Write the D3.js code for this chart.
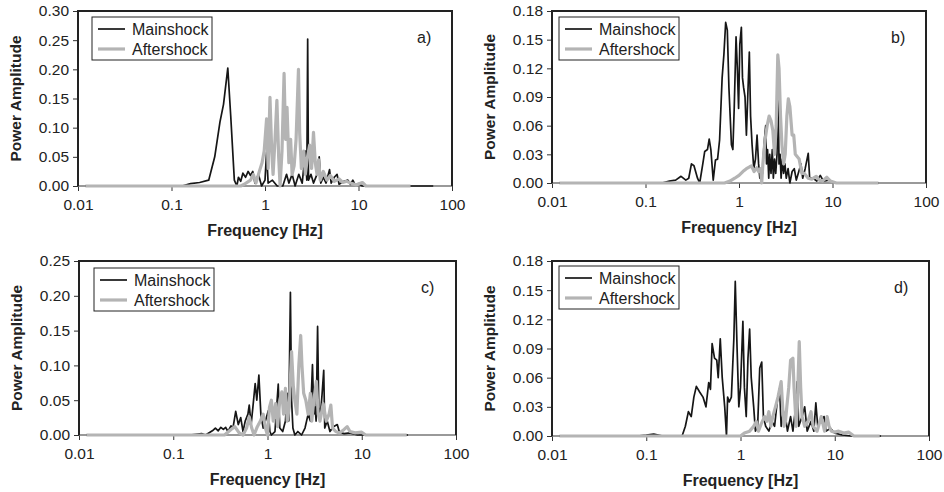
<!DOCTYPE html>
<html>
<head>
<meta charset="utf-8">
<script src="https://cdn.jsdelivr.net/npm/d3@7"></script>
<style>
  body { margin: 0; background: #fff; }
  svg text { font-family: "Liberation Sans", Arial, sans-serif; fill: #222; }
</style>
</head>
<body>
<svg width="944" height="492"></svg>
<script>
// panel a
const aMainHz = [0.012, 0.13, 0.16, 0.2, 0.25, 0.29, 0.33, 0.36, 0.40, 0.43, 0.47, 0.50, 0.52, 0.55, 0.58, 0.62, 0.66, 0.70, 0.74, 0.78, 0.85, 0.92, 1.0, 1.04, 1.08, 1.2, 1.35, 1.55, 1.7, 1.8, 1.95, 2.1, 2.3, 2.5, 2.7, 2.8, 2.86, 2.92, 3.1, 3.3, 3.6, 3.8, 3.95, 4.2, 4.5, 4.9, 5.1, 5.5, 5.9, 6.2, 7.0, 7.7, 8.2, 8.7, 9.2, 10, 11, 63];
const aMainAmp = [0, 0, 0.004, 0.006, 0.01, 0.05, 0.11, 0.14, 0.202, 0.12, 0.01, 0, 0.015, 0.008, 0.022, 0.015, 0.025, 0.018, 0.025, 0.005, 0.02, 0, 0.01, 0.058, 0.005, 0.01, 0, 0, 0.02, 0.005, 0.02, 0, 0.02, 0.005, 0.06, 0.01, 0.252, 0.01, 0.02, 0.005, 0.02, 0.05, 0.005, 0.015, 0.005, 0.028, 0.005, 0.015, 0.02, 0.003, 0.008, 0.01, 0.003, 0.01, 0.002, 0.004, 0, 0];
const aAfterHz = [0.012, 0.55, 0.6, 0.7, 0.75, 0.8, 0.87, 0.93, 0.98, 1.04, 1.08, 1.13, 1.18, 1.22, 1.28, 1.34, 1.40, 1.45, 1.52, 1.60, 1.66, 1.72, 1.80, 1.88, 1.95, 2.05, 2.15, 2.28, 2.35, 2.45, 2.6, 2.7, 2.85, 3.0, 3.15, 3.3, 3.45, 3.6, 3.75, 3.9, 4.2, 4.6, 5.0, 5.5, 6.2, 6.8, 7.5, 8.5, 9.5, 11, 12, 36];
const aAfterAmp = [0, 0, 0.003, 0.01, 0.02, 0.005, 0.025, 0.04, 0.06, 0.115, 0.03, 0.152, 0.06, 0.02, 0.08, 0.147, 0.05, 0, 0.06, 0.193, 0.08, 0.135, 0.04, 0.08, 0.02, 0.035, 0.08, 0.2, 0.09, 0.03, 0.06, 0.02, 0.05, 0.07, 0.03, 0.092, 0.04, 0.02, 0.045, 0.01, 0.025, 0.01, 0.018, 0.008, 0.012, 0.006, 0.008, 0.004, 0.002, 0.006, 0, 0];

// panel b
const bMainHz = [0.012, 0.15, 0.18, 0.21, 0.24, 0.27, 0.29, 0.31, 0.33, 0.36, 0.38, 0.41, 0.43, 0.46, 0.48, 0.5, 0.53, 0.56, 0.59, 0.62, 0.66, 0.69, 0.72, 0.75, 0.78, 0.83, 0.86, 0.89, 0.93, 0.96, 0.99, 1.02, 1.06, 1.09, 1.12, 1.16, 1.2, 1.24, 1.29, 1.33, 1.38, 1.44, 1.5, 1.56, 1.62, 1.67, 1.72, 1.78, 1.85, 1.93, 1.97, 2.02, 2.08, 2.13, 2.2, 2.27, 2.33, 2.4, 2.47, 2.55, 2.62, 2.68, 2.75, 2.82, 2.9, 3.0, 3.1, 3.2, 3.35, 3.5, 3.7, 3.9, 4.1, 4.3, 4.6, 4.8, 5.1, 5.5, 5.7, 6.2, 6.8, 7.4, 8, 9.2, 10, 11, 31];
const bMainAmp = [0, 0, 0.002, 0.003, 0.007, 0.003, 0.005, 0.02, 0.018, 0.005, 0, 0.02, 0.033, 0.035, 0.046, 0.035, 0.003, 0.024, 0.025, 0.045, 0.11, 0.135, 0.168, 0.16, 0.1, 0.04, 0.035, 0.08, 0.153, 0.12, 0.078, 0.145, 0.163, 0.11, 0.1, 0.09, 0.05, 0.09, 0.137, 0.07, 0.04, 0.015, 0.025, 0.05, 0.02, 0.005, 0.015, 0.01, 0.04, 0.06, 0.02, 0.035, 0.005, 0.03, 0.01, 0.035, 0.005, 0.025, 0.01, 0.03, 0.093, 0.02, 0.03, 0.005, 0.025, 0.01, 0.02, 0.005, 0.015, 0, 0.012, 0.015, 0.003, 0.01, 0.02, 0.005, 0.015, 0.031, 0.005, 0.005, 0.002, 0.008, 0.002, 0.003, 0.001, 0, 0];
const bAfterHz = [0.012, 0.7, 0.8, 0.9, 1.0, 1.1, 1.2, 1.3, 1.36, 1.45, 1.55, 1.62, 1.7, 1.75, 1.8, 1.9, 2.0, 2.1, 2.2, 2.3, 2.4, 2.5, 2.6, 2.68, 2.78, 2.88, 3.0, 3.12, 3.25, 3.37, 3.5, 3.7, 3.85, 4.0, 4.4, 4.7, 5.0, 5.5, 6.0, 6.7, 7.2, 7.8, 8.7, 9.5, 11, 31];
const bAfterAmp = [0, 0, 0.002, 0.005, 0.008, 0.012, 0.015, 0.017, 0.018, 0.012, 0.016, 0.012, 0.015, 0, 0.02, 0.045, 0.06, 0.07, 0.065, 0.055, 0.03, 0.06, 0.134, 0.12, 0.07, 0.04, 0.02, 0.03, 0.07, 0.088, 0.08, 0.05, 0.05, 0.03, 0.025, 0.01, 0.01, 0.005, 0.004, 0.007, 0.003, 0.002, 0.006, 0.002, 0, 0];

// panel c
const cMainHz = [0.012, 0.15, 0.2, 0.22, 0.26, 0.28, 0.3, 0.32, 0.34, 0.36, 0.38, 0.41, 0.43, 0.46, 0.49, 0.52, 0.55, 0.58, 0.62, 0.64, 0.67, 0.7, 0.74, 0.77, 0.81, 0.85, 0.9, 0.95, 1.02, 1.06, 1.1, 1.2, 1.3, 1.35, 1.45, 1.55, 1.62, 1.68, 1.75, 1.8, 1.86, 1.95, 2.1, 2.3, 2.5, 2.7, 2.85, 3.0, 3.1, 3.2, 3.28, 3.4, 3.5, 3.65, 3.8, 3.95, 4.05, 4.3, 4.6, 5.0, 5.5, 5.8, 6.5, 7.5, 9, 31];
const cMainAmp = [0, 0, 0.002, 0, 0.006, 0.01, 0.006, 0.011, 0.008, 0.011, 0.005, 0.013, 0.01, 0.034, 0.015, 0.025, 0.005, 0.02, 0.03, 0.043, 0.015, 0.04, 0.074, 0.05, 0.086, 0.03, 0.01, 0.02, 0.035, 0.005, 0, 0.005, 0.073, 0.01, 0.005, 0.02, 0.06, 0.02, 0.205, 0.05, 0.01, 0, 0.005, 0, 0.01, 0.03, 0.02, 0.101, 0.03, 0.04, 0.02, 0.156, 0.04, 0.03, 0.06, 0.093, 0.01, 0.02, 0.005, 0.012, 0.015, 0.004, 0.002, 0.003, 0, 0];
const cAfterHz = [0.012, 0.35, 0.41, 0.45, 0.5, 0.55, 0.6, 0.64, 0.68, 0.72, 0.78, 0.84, 0.9, 0.95, 1.0, 1.05, 1.1, 1.15, 1.22, 1.28, 1.35, 1.42, 1.48, 1.55, 1.62, 1.7, 1.8, 1.88, 1.95, 2.05, 2.15, 2.25, 2.32, 2.42, 2.55, 2.7, 2.85, 2.95, 3.1, 3.3, 3.45, 3.6, 3.9, 4.2, 4.5, 4.7, 4.9, 5.3, 5.8, 6.5, 7.0, 7.5, 8.5, 10, 11, 30];
const cAfterAmp = [0, 0, 0.008, 0.012, 0.003, 0, 0.01, 0.026, 0.01, 0, 0.012, 0.02, 0.03, 0.01, 0, 0.04, 0.05, 0.02, 0.045, 0.012, 0.05, 0.062, 0.03, 0.067, 0.02, 0.04, 0.12, 0.07, 0.05, 0.03, 0.1, 0.143, 0.1, 0.06, 0.05, 0.03, 0.06, 0.02, 0.05, 0.077, 0.03, 0.02, 0.045, 0.02, 0.03, 0.043, 0.01, 0.005, 0.003, 0.008, 0.012, 0.005, 0.003, 0.004, 0, 0];

// panel d
const dMainHz = [0.012, 0.08, 0.1, 0.12, 0.15, 0.24, 0.26, 0.28, 0.3, 0.32, 0.34, 0.37, 0.4, 0.43, 0.46, 0.48, 0.5, 0.53, 0.56, 0.58, 0.61, 0.64, 0.68, 0.71, 0.73, 0.76, 0.8, 0.85, 0.88, 0.92, 0.96, 1.0, 1.06, 1.1, 1.15, 1.2, 1.25, 1.3, 1.38, 1.44, 1.52, 1.6, 1.68, 1.75, 1.85, 2.0, 2.15, 2.3, 2.45, 2.6, 2.7, 2.85, 3.0, 3.15, 3.4, 3.6, 3.85, 4.0, 4.15, 4.5, 4.8, 5.1, 5.6, 6.0, 6.3, 6.6, 7.1, 7.7, 8.1, 9, 10, 12, 15, 31];
const dMainAmp = [0, 0, 0.001, 0.002, 0, 0, 0.01, 0.025, 0.02, 0.04, 0.051, 0.045, 0.04, 0.03, 0.055, 0.048, 0.095, 0.08, 0.078, 0.06, 0.1, 0.06, 0.03, 0, 0.04, 0.035, 0.04, 0.1, 0.159, 0.09, 0.03, 0.05, 0.118, 0.05, 0.02, 0.08, 0.11, 0.06, 0.03, 0.005, 0.01, 0.07, 0.076, 0.02, 0.01, 0.005, 0.015, 0.01, 0.035, 0.049, 0.01, 0.025, 0.02, 0.005, 0.02, 0.005, 0.03, 0.056, 0.01, 0.02, 0.03, 0.005, 0.015, 0.005, 0.034, 0.01, 0.015, 0.02, 0.005, 0.008, 0.003, 0.001, 0, 0];
const dAfterHz = [0.012, 1.0, 1.1, 1.25, 1.38, 1.47, 1.55, 1.65, 1.8, 1.9, 2.0, 2.1, 2.2, 2.35, 2.5, 2.7, 2.8, 2.9, 3.0, 3.1, 3.25, 3.4, 3.6, 3.7, 3.8, 3.9, 4.0, 4.2, 4.35, 4.5, 4.8, 5.2, 5.6, 5.9, 6.5, 7.2, 7.8, 8.3, 8.7, 9.2, 10, 11, 12.5, 14, 16, 30];
const dAfterAmp = [0, 0, 0.003, 0.005, 0.01, 0.015, 0.005, 0.012, 0.02, 0.015, 0.025, 0.01, 0.02, 0.03, 0.04, 0.056, 0.03, 0.01, 0.015, 0.03, 0.05, 0.078, 0.08, 0.05, 0.03, 0.01, 0.03, 0.097, 0.05, 0.02, 0.01, 0.015, 0.025, 0.01, 0.005, 0.02, 0.005, 0.02, 0.01, 0.005, 0.004, 0.005, 0.003, 0.004, 0, 0];

const xTicks = [0.01, 0.1, 1, 10, 100];
const seriesNames = ["Mainshock", "Aftershock"];

const panels = [
  { label: "a)", x: 78, y: 11, w: 374, h: 175, yMax: 0.30, yStep: 0.05, lx: 14, ly: 6,
    main: [aMainHz, aMainAmp], after: [aAfterHz, aAfterAmp] },
  { label: "b)", x: 552, y: 11, w: 374, h: 172, yMax: 0.18, yStep: 0.03, lx: 7, ly: 6,
    main: [bMainHz, bMainAmp], after: [bAfterHz, bAfterAmp] },
  { label: "c)", x: 79, y: 261, w: 377, h: 174, yMax: 0.25, yStep: 0.05, lx: 15, ly: 7,
    main: [cMainHz, cMainAmp], after: [cAfterHz, cAfterAmp] },
  { label: "d)", x: 552, y: 261, w: 377, h: 175, yMax: 0.18, yStep: 0.03, lx: 7, ly: 5,
    main: [dMainHz, dMainAmp], after: [dAfterHz, dAfterAmp] }
];

const svg = d3.select("svg");
const mainColor = "#161616", afterColor = "#b4b4b4";

panels.forEach((p) => {
  const g = svg.append("g").attr("transform", `translate(${p.x},${p.y})`);

  const x = d3.scaleLog().domain([0.01, 100]).range([0, p.w]);
  const y = d3.scaleLinear().domain([0, p.yMax]).range([p.h, 0]);

  const yTicks = d3.range(0, p.yMax + p.yStep / 2, p.yStep);

  // axes
  const yAxis = g.append("g")
    .call(d3.axisLeft(y).tickValues(yTicks).tickSize(5).tickPadding(4).tickFormat(d3.format(".2f")));
  const xAxis = g.append("g").attr("transform", `translate(0,${p.h})`)
    .call(d3.axisBottom(x).tickValues(xTicks).tickSize(5).tickPadding(8).tickFormat((d) => String(d)));
  [yAxis, xAxis].forEach((a) => {
    a.select(".domain").remove();
    a.selectAll(".tick line").attr("stroke", "#333");
    a.selectAll("text").attr("font-size", 15.5).attr("fill", "#222")
      .style("font-family", "'Liberation Sans', Arial, sans-serif");
  });

  // frame
  g.append("line").attr("x1", 0).attr("x2", p.w).attr("y1", p.h).attr("y2", p.h)
    .attr("stroke", "#777").attr("stroke-width", 1.5);
  g.append("path")
    .attr("d", `M0,${p.h}V0H${p.w}V${p.h}`)
    .attr("fill", "none").attr("stroke", "#222").attr("stroke-width", 2);

  const line = d3.line().x((d) => x(d[0])).y((d) => y(d[1]));

  const mainPts = d3.zip(p.main[0], p.main[1]);
  const afterPts = d3.zip(p.after[0], p.after[1]);

  g.append("path").datum(mainPts).attr("d", line)
    .attr("fill", "none").attr("stroke", mainColor).attr("stroke-width", 1.7)
    .attr("stroke-linejoin", "round");
  g.append("path").datum(afterPts).attr("d", line)
    .attr("fill", "none").attr("stroke", afterColor).attr("stroke-width", 3.2)
    .attr("stroke-linejoin", "round");

  // panel label
  g.append("text").attr("x", p.w - 35).attr("y", 32)
    .attr("font-size", 16).text(p.label);

  // legend
  const lg = g.append("g").attr("transform", `translate(${p.lx},${p.ly})`);
  lg.append("rect").attr("width", 120).attr("height", 43)
    .attr("fill", "#fff").attr("stroke", "#222").attr("stroke-width", 1);
  seriesNames.forEach((name, i) => {
    const yy = 12 + i * 20;
    lg.append("line").attr("x1", 6).attr("x2", 33).attr("y1", yy).attr("y2", yy)
      .attr("stroke", i === 0 ? mainColor : afterColor)
      .attr("stroke-width", i === 0 ? 1.7 : 3.2);
    lg.append("text").attr("x", 40).attr("y", yy + 6)
      .attr("font-size", 16).text(name);
  });

  // axis titles
  g.append("text")
    .attr("transform", `translate(${-57},${p.h / 2}) rotate(-90)`)
    .attr("text-anchor", "middle").attr("font-size", 15.5).attr("font-weight", "bold")
    .text("Power Amplitude");
  g.append("text")
    .attr("x", p.w / 2).attr("y", p.h + 50)
    .attr("text-anchor", "middle").attr("font-size", 16).attr("font-weight", "bold")
    .text("Frequency [Hz]");
});
</script>
</body>
</html>
